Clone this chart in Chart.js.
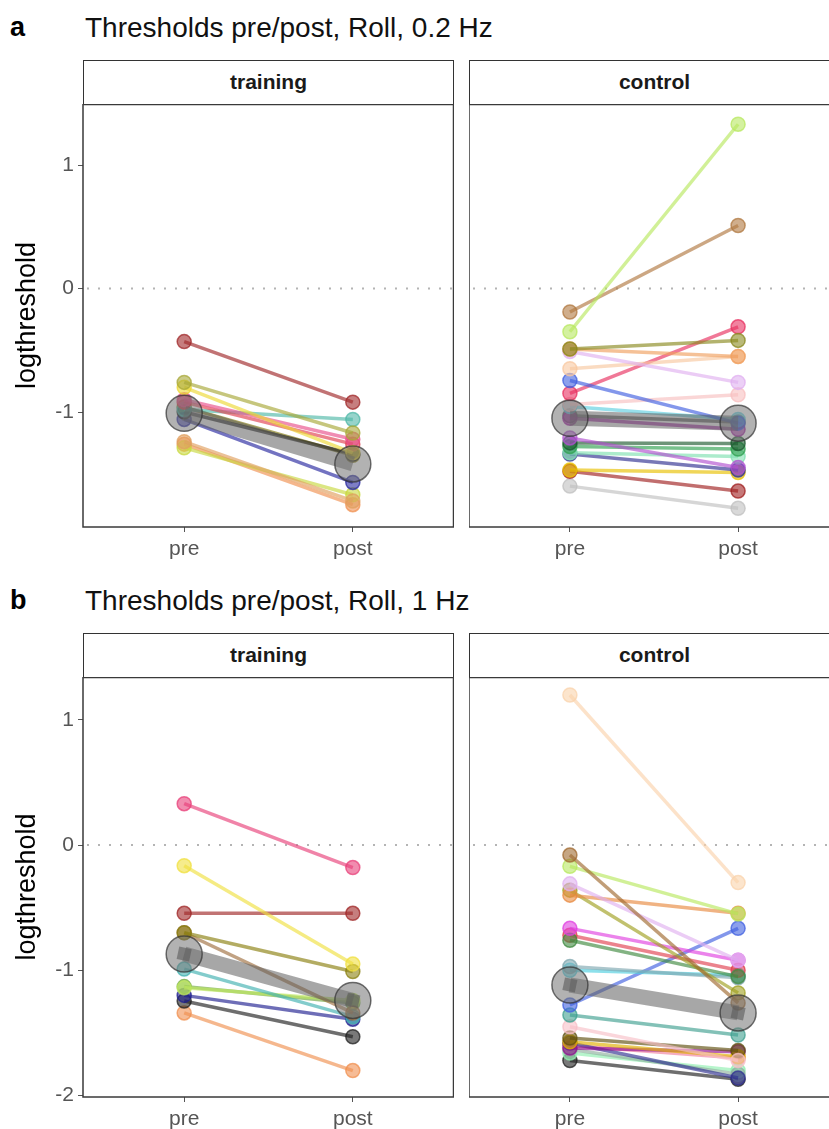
<!DOCTYPE html>
<html lang="en">
<head>
  <meta charset="UTF-8">
  <title>Thresholds pre/post, Roll</title>
  <script src="https://cdn.jsdelivr.net/npm/chart.js@4/dist/chart.umd.min.js"></script>
  <style>
    body {
      margin: 0;
      width: 829px;
      height: 1129px;
      overflow: hidden;
      background: #fff;
      font-family: "Liberation Sans", Arial, sans-serif;
      position: relative;
    }
    canvas, .strip, .tag, .title { position: absolute; }
    .tag { left: 10px; font-size: 27px; font-weight: bold; color: #000; }
    .title { left: 85px; font-size: 28px; color: #111; }
    .strip {
      box-sizing: border-box;
      height: 45px;
      border: 1.5px solid #333;
      background: #fff;
      font-size: 21px;
      font-weight: bold;
      text-align: center;
      line-height: 42px;
      color: #1a1a1a;
    }
  </style>
</head>
<body>
  <div class="tag" style="top:12px">a</div>
  <div class="title" style="top:12px">Thresholds pre/post, Roll, 0.2 Hz</div>
  <div class="strip" style="left:83px; top:60px; width:371px">training</div>
  <div class="strip" style="left:469px; top:60px; width:371px">control</div>
  <canvas id="aTrain" width="454" height="468" style="left:0; top:104px"></canvas>
  <canvas id="aCtrl" width="370" height="468" style="left:469px; top:104px"></canvas>

  <div class="tag" style="top:585px">b</div>
  <div class="title" style="top:585px">Thresholds pre/post, Roll, 1 Hz</div>
  <div class="strip" style="left:83px; top:633px; width:371px">training</div>
  <div class="strip" style="left:469px; top:633px; width:371px">control</div>
  <canvas id="bTrain" width="454" height="465" style="left:0; top:677px"></canvas>
  <canvas id="bCtrl" width="370" height="465" style="left:469px; top:677px"></canvas>

  <script>
    const categories = ['pre', 'post'];
    const yTicksA = [1, 0, -1];
    const yTicksB = [1, 0, -1, -2];

    // a: 0.2 Hz, training
    const aTrainPre  = [-0.43, -0.76, -0.80, -0.90, -0.92, -0.98, -1.00, -1.06, -0.96, -1.24, -1.29, -1.26];
    const aTrainPost = [-0.92, -1.17, -1.33, -1.22, -1.26, -1.06, -1.34, -1.57, -1.35, -1.72, -1.67, -1.75];
    const aTrainMean = [-1.01, -1.42];
    const aTrainColors = ['#a0282a', '#a8a838', '#ecd834', '#e8508a', '#e04050', '#50b8a8',
                          '#1a1a1a', '#2828a0', '#807810', '#e0a060', '#c8d840', '#f09050'];

    // a: 0.2 Hz, control
    const aCtrlPre  = [-0.35, -0.19, -0.49, -0.49, -0.51, -0.65, -0.745, -0.85, -0.94, -0.955,
                       -1.05, -1.03, -1.21, -1.25, -1.28, -1.33, -1.34, -1.47, -1.48, -1.60];
    const aCtrlPost = [1.33, 0.51, -0.42, -0.55, -0.76, -0.55, -1.09, -0.31, -0.86, -1.06,
                       -1.14, -1.08, -1.45, -1.255, -1.30, -1.36, -1.47, -1.49, -1.64, -1.78];
    const aCtrlMean = [-1.05, -1.09];
    const aCtrlColors = ['#b8e860', '#b07840', '#8a8a20', '#f0a060', '#e0b0f0', '#f8c8a0', '#4060e0',
                         '#e83060', '#f8c0c0', '#60d0e0', '#a020a0', '#505050', '#b050d0', '#1e5a30',
                         '#30a050', '#80e0b0', '#303090', '#e8c000', '#a02020', '#c0c0c0'];

    // b: 1 Hz, training
    const bTrainPre  = [0.33, -0.165, -0.545, -0.70, -0.70, -0.99, -1.14, -1.13, -1.20, -1.245, -1.34];
    const bTrainPost = [-0.18, -0.95, -0.545, -1.01, -1.34, -1.37, -1.24, -1.26, -1.39, -1.53, -1.80];
    const bTrainMean = [-0.87, -1.24];
    const bTrainColors = ['#e8407a', '#f0e040', '#a02828', '#8a8010', '#a07040', '#40b0b0',
                          '#c0e860', '#70a840', '#202090', '#202020', '#f09050'];

    // b: 1 Hz, control
    const bCtrlPre  = [1.197, -0.08, -0.17, -0.31, -0.40, -0.36, -0.665, -0.76, -0.72, -0.97, -1.0,
                       -1.277, -1.357, -1.45, -1.54, -1.57, -1.62, -1.58, -1.63, -1.66, -1.72, -1.60];
    const bCtrlPost = [-0.30, -1.26, -0.55, -0.92, -0.545, -1.18, -0.92, -1.05, -1.00, -1.06, -1.04,
                       -0.665, -1.516, -1.72, -1.64, -1.69, -1.65, -1.86, -1.83, -1.80, -1.87, -1.70];
    const bCtrlMean = [-1.117, -1.34];
    const bCtrlColors = ['#fad3ac', '#a06a30', '#b8e860', '#e0b0f0', '#e88a40', '#a0a020', '#e040e0',
                         '#408a40', '#e04050', '#80a8b0', '#50d0e0', '#4060e0', '#40a090', '#f8c0c8',
                         '#605010', '#e0b000', '#901090', '#303090', '#90b0a0', '#90f0b0', '#202020', '#f080a0'];

    function alpha(hex, a) {
      const n = parseInt(hex.slice(1), 16);
      return `rgba(${n >> 16}, ${(n >> 8) & 255}, ${n & 255}, ${a})`;
    }

    // dotted zero line + panel frame
    const panelDecor = {
      id: 'panelDecor',
      beforeDatasetsDraw(chart) {
        const {ctx, chartArea: a, scales: {y}} = chart;
        const y0 = y.getPixelForValue(0);
        ctx.save();
        ctx.strokeStyle = '#b4b4b4';
        ctx.lineWidth = 2;
        ctx.setLineDash([2, 9]);
        ctx.beginPath();
        ctx.moveTo(a.left + 4, y0);
        ctx.lineTo(a.right, y0);
        ctx.stroke();
        ctx.restore();
      },
      afterDraw(chart) {
        const {ctx, chartArea: a} = chart;
        ctx.save();
        ctx.strokeStyle = '#3a3a3a';
        ctx.lineWidth = 1.5;
        ctx.strokeRect(a.left, a.top + 0.5, a.right - a.left - 0.5, a.bottom - a.top - 0.5);
        ctx.restore();
      }
    };

    function makePanel(id, pre, post, mean, colors, yMin, yMax, yTicks, showY, square) {
      const datasets = [];
      datasets.push({
        data: [{x: 1, y: mean[0]}, {x: 2, y: mean[1]}],
        borderColor: 'rgba(95, 95, 95, 0.55)',
        borderWidth: 15,
        pointRadius: 18,
        pointBackgroundColor: 'rgba(115, 115, 115, 0.55)',
        pointBorderColor: 'rgba(50, 50, 50, 0.7)',
        pointBorderWidth: 1.5,
        order: 0
      });
      if (square) {
        datasets.push({
          data: [{x: 1, y: mean[0]}, {x: 2, y: mean[1]}],
          showLine: false,
          pointStyle: 'rect',
          rotation: 12,
          pointRadius: 9,
          pointBackgroundColor: 'rgba(90, 90, 90, 0.6)',
          pointBorderWidth: 0,
          order: -1
        });
      }
      pre.forEach((v, i) => {
        datasets.push({
          data: [{x: 1, y: v}, {x: 2, y: post[i]}],
          borderColor: alpha(colors[i], 0.65),
          borderWidth: 3.5,
          pointRadius: 7,
          pointBackgroundColor: alpha(colors[i], 0.6),
          pointBorderColor: alpha(colors[i], 0.75),
          pointBorderWidth: 1.5,
          order: 1
        });
      });

      return new Chart(document.getElementById(id), {
        type: 'line',
        data: {datasets},
        plugins: [panelDecor],
        options: {
          responsive: false,
          animation: false,
          layout: {padding: 0, autoPadding: false},
          plugins: {legend: {display: false}, tooltip: {enabled: false}},
          scales: {
            x: {
              type: 'linear',
              min: 0.4,
              max: 2.6,
              afterBuildTicks: s => { s.ticks = [{value: 1}, {value: 2}]; },
              afterFit: s => { s.height = 45; s.paddingLeft = 0; s.paddingRight = 0; },
              grid: {drawOnChartArea: false, drawTicks: true, tickLength: 5, color: '#555'},
              border: {display: false},
              ticks: {
                padding: 5,
                color: '#555',
                font: {family: 'Liberation Sans', size: 21},
                callback: v => categories[v - 1]
              }
            },
            y: {
              type: 'linear',
              display: showY,
              min: yMin,
              max: yMax,
              afterBuildTicks: s => { s.ticks = yTicks.map(v => ({value: v})); },
              afterFit: s => { s.width = showY ? 83 : 0; s.paddingTop = 0; s.paddingBottom = 0; },
              grid: {drawOnChartArea: false, drawTicks: true, tickLength: 5, color: '#555'},
              border: {display: false},
              ticks: {
                padding: 4,
                color: '#555',
                font: {family: 'Liberation Sans', size: 21},
                callback: v => String(v)
              },
              title: {
                display: true,
                text: 'logthreshold',
                color: '#000',
                padding: {top: 11, bottom: 0},
                font: {family: 'Liberation Sans', size: 27}
              }
            }
          }
        }
      });
    }

    makePanel('aTrain', aTrainPre, aTrainPost, aTrainMean, aTrainColors, -1.931, 1.494, yTicksA, true, false);
    makePanel('aCtrl', aCtrlPre, aCtrlPost, aCtrlMean, aCtrlColors, -1.931, 1.494, yTicksA, false, false);
    makePanel('bTrain', bTrainPre, bTrainPost, bTrainMean, bTrainColors, -2.011, 1.341, yTicksB, true, true);
    makePanel('bCtrl', bCtrlPre, bCtrlPost, bCtrlMean, bCtrlColors, -2.011, 1.341, yTicksB, false, true);
  </script>
</body>
</html>
